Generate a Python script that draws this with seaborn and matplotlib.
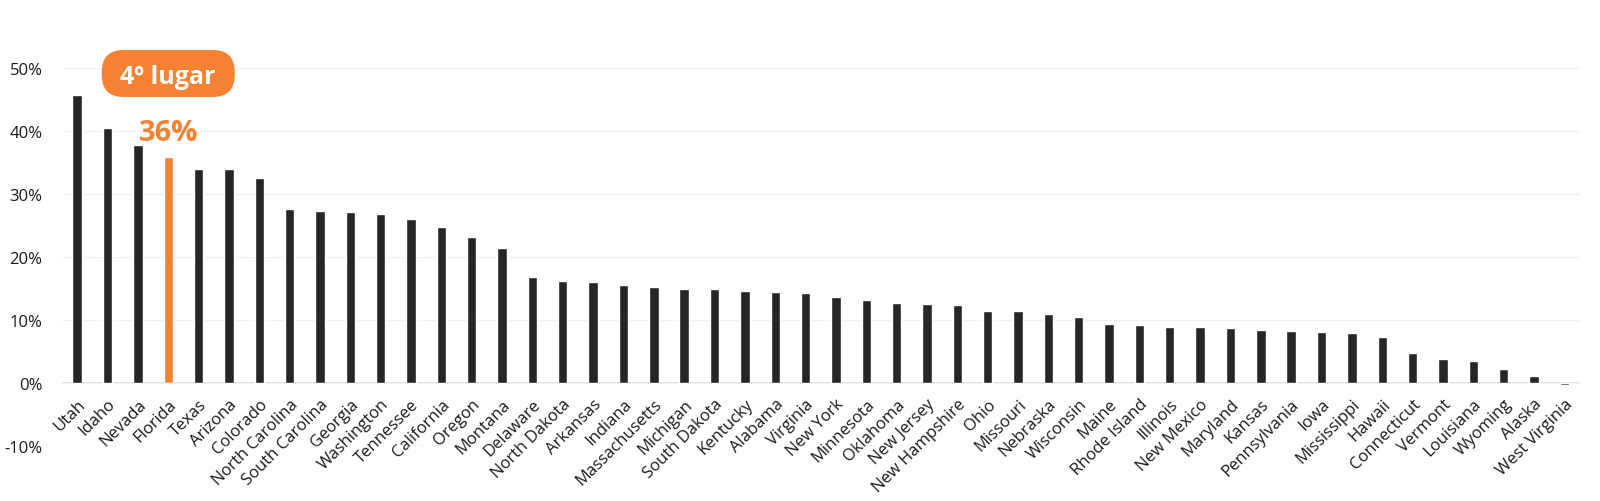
import matplotlib
matplotlib.use("Agg")
import matplotlib.pyplot as plt
from matplotlib.patches import FancyBboxPatch
from matplotlib.ticker import FuncFormatter
import seaborn as sns
import pandas as pd

states = ["Utah", "Idaho", "Nevada", "Florida", "Texas", "Arizona", "Colorado",
          "North Carolina", "South Carolina", "Georgia", "Washington", "Tennessee",
          "California", "Oregon", "Montana", "Delaware", "North Dakota", "Arkansas",
          "Indiana", "Massachusetts", "Michigan", "South Dakota", "Kentucky", "Alabama",
          "Virginia", "New York", "Minnesota", "Oklahoma", "New Jersey", "New Hampshire",
          "Ohio", "Missouri", "Nebraska", "Wisconsin", "Maine", "Rhode Island",
          "Illinois", "New Mexico", "Maryland", "Kansas", "Pennsylvania", "Iowa",
          "Mississippi", "Hawaii", "Connecticut", "Vermont", "Louisiana", "Wyoming",
          "Alaska", "West Virginia"]
growth = [45.7, 40.4, 37.7, 35.9, 34.0, 33.9, 32.5,
          27.6, 27.3, 27.1, 26.9, 26.1,
          24.8, 23.2, 21.5, 16.9, 16.2, 16.1,
          15.6, 15.2, 15.0, 14.9, 14.6, 14.4,
          14.3, 13.7, 13.2, 12.8, 12.5, 12.4,
          11.5, 11.5, 11.0, 10.5, 9.4, 9.3,
          8.9, 8.9, 8.8, 8.4, 8.3, 8.2,
          8.0, 7.4, 4.8, 3.8, 3.5, 2.3,
          1.1, -0.2]
highlight = "Florida"
badge_text = "4º lugar"
value_text = "36%"
y_ticks = [-10, 0, 10, 20, 30, 40, 50]

ORANGE = "#F58232"
DARK = "#262626"
FONT = "Open Sans"

sns.set_theme(style="white")
plt.rcParams["font.family"] = [FONT, "DejaVu Sans"]

df = pd.DataFrame({"state": states, "growth": growth})
palette = {s: (ORANGE if s == highlight else DARK) for s in states}

fig = plt.figure(figsize=(16, 5.02), dpi=100)
ax = fig.add_axes([62 / 1600, (502 - 447.4) / 502, (1579.5 - 62) / 1600, (447.4 - 68.8) / 502])

sns.barplot(data=df, x="state", y="growth", hue="state", palette=palette,
            legend=False, width=0.31, ax=ax, saturation=1)

ax.set_ylim(min(y_ticks), max(y_ticks))
ax.set_xlim(-0.5, len(states) - 0.5)
ax.set_yticks(y_ticks)
ax.yaxis.set_major_formatter(FuncFormatter(lambda v, p: f"{v:.0f}%"))
ax.set_xlabel("")
ax.set_ylabel("")
for sp in ax.spines.values():
    sp.set_visible(False)
ax.spines["bottom"].set_position(("data", 0))
ax.grid(axis="y", color="#f2f2f2", linewidth=1)
ax.set_axisbelow(True)
ax.axhline(0, color="#d9d9d9", linewidth=1.2, zorder=0.5)
ax.tick_params(axis="y", length=0, pad=14, labelsize=12, labelcolor="#1a1a1a")
ax.tick_params(axis="x", length=0, pad=9, labelsize=12, labelcolor="#1a1a1a")
for lab in ax.get_xticklabels():
    lab.set_rotation(45)
    lab.set_ha("right")
    lab.set_rotation_mode("anchor")

# Annotations for highlighted state
hi = states.index(highlight)
hv = growth[hi]
ax.text(hi, hv + 2.6, value_text, color=ORANGE, fontsize=21, fontweight="bold",
        ha="center", va="baseline")

# badge
p0 = ax.transData.transform((0, 0))
p1 = ax.transData.transform((1, 1))
px_x = p1[0] - p0[0]
px_y = p1[1] - p0[1]
bw, bh, rad = 133 / px_x, 47 / px_y, 22 / px_x
cy = 49.1
badge = FancyBboxPatch((hi - bw / 2, cy - bh / 2), bw, bh,
                       boxstyle=f"round,pad=0,rounding_size={rad}",
                       mutation_aspect=px_x / px_y, fc=ORANGE, ec="none",
                       clip_on=False, zorder=5)
ax.add_patch(badge)
ax.text(hi, cy, badge_text, color="white", fontsize=18, fontweight="bold",
        ha="center", va="center_baseline", zorder=6, clip_on=False)

fig.savefig("out.png", dpi=100, facecolor="white")
